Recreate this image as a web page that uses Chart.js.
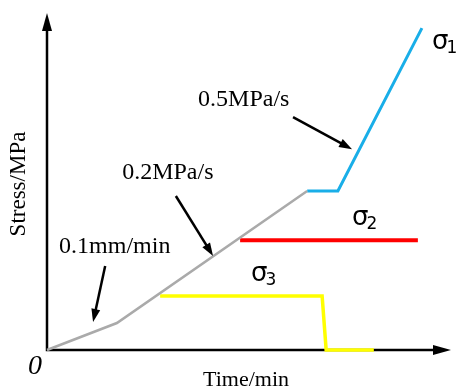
<!DOCTYPE html>
<html>
<head>
<meta charset="utf-8">
<script src="https://cdn.jsdelivr.net/npm/chart.js@4/dist/chart.umd.min.js"></script>
<style>
  body { margin: 0; background: #fff; }
  #wrap { width: 457px; height: 387px; position: relative; }
</style>
</head>
<body>
<div id="wrap"><canvas id="chart"></canvas></div>
<script>
// loading path (time, stress) in chart units
const preload = [{x: 0, y: 0}, {x: 17.3, y: 8.0}, {x: 64.4, y: 47.2}];
const sigma1 = [{x: 64.4, y: 47.2}, {x: 72.0, y: 47.2}, {x: 92.8, y: 95.5}];
const sigma2 = [{x: 47.8, y: 32.6}, {x: 91.8, y: 32.6}];
const sigma3 = [{x: 28.0, y: 16.0}, {x: 68.1, y: 16.0}, {x: 69.1, y: 0}, {x: 80.9, y: 0}];

// rate labels and their pointer arrows
const rateLabels = ["0.5MPa/s", "0.2MPa/s", "0.1mm/min"];
const rateLabelPos = [{x: 37.4, y: 74.2}, {x: 18.6, y: 52.5}, {x: 3.0, y: 30.6}];
const rateArrows = [
  [{x: 60.9, y: 69.1}, {x: 75.5, y: 59.6}],
  [{x: 31.9, y: 45.7}, {x: 41.1, y: 27.9}],
  [{x: 14.4, y: 24.9}, {x: 11.4, y: 8.3}]
];
const sigmaSubs = ["1", "2", "3"];
const sigmaPos = [{x: 95.3, y: 91.4}, {x: 75.5, y: 39.2}, {x: 50.5, y: 22.6}];

const xTitle = "Time/min";
const yTitle = "Stress/MPa";

function arrowHead(ctx, x1, y1, x2, y2, len, half) {
  const a = Math.atan2(y2 - y1, x2 - x1);
  ctx.beginPath();
  ctx.moveTo(x2, y2);
  ctx.lineTo(x2 - len * Math.cos(a) + half * Math.sin(a), y2 - len * Math.sin(a) - half * Math.cos(a));
  ctx.lineTo(x2 - len * Math.cos(a) - half * Math.sin(a), y2 - len * Math.sin(a) + half * Math.cos(a));
  ctx.closePath();
  ctx.fill();
}

const axesPlugin = {
  id: "axesArrows",
  beforeDatasetsDraw(chart) {
    const {ctx, chartArea: a} = chart;
    ctx.save();
    ctx.strokeStyle = "#000";
    ctx.fillStyle = "#000";
    ctx.lineWidth = 2.5;
    ctx.beginPath();
    ctx.moveTo(a.left, a.top + 10);
    ctx.lineTo(a.left, a.bottom);
    ctx.lineTo(a.right - 10, a.bottom);
    ctx.stroke();
    arrowHead(ctx, a.left, a.bottom, a.left, a.top, 18, 5);
    arrowHead(ctx, a.left, a.bottom, a.right, a.bottom, 18, 5);
    ctx.restore();
  },
  afterDatasetsDraw(chart) {
    const {ctx, chartArea: a} = chart;
    const xs = chart.scales.x, ys = chart.scales.y;
    ctx.save();
    ctx.fillStyle = "#000";
    ctx.strokeStyle = "#000";

    // pointer arrows
    ctx.lineWidth = 2.5;
    rateArrows.forEach(([p, q]) => {
      const x1 = xs.getPixelForValue(p.x), y1 = ys.getPixelForValue(p.y);
      const x2 = xs.getPixelForValue(q.x), y2 = ys.getPixelForValue(q.y);
      const ang = Math.atan2(y2 - y1, x2 - x1);
      ctx.beginPath();
      ctx.moveTo(x1, y1);
      ctx.lineTo(x2 - 8 * Math.cos(ang), y2 - 8 * Math.sin(ang));
      ctx.stroke();
      arrowHead(ctx, x1, y1, x2, y2, 13, 4.5);
    });

    // rate labels
    ctx.font = '24px "Liberation Serif", serif';
    ctx.textAlign = "left";
    ctx.textBaseline = "middle";
    rateLabels.forEach((t, i) => {
      ctx.fillText(t, xs.getPixelForValue(rateLabelPos[i].x), ys.getPixelForValue(rateLabelPos[i].y));
    });

    // sigma labels
    sigmaSubs.forEach((s, i) => {
      const x = xs.getPixelForValue(sigmaPos[i].x), y = ys.getPixelForValue(sigmaPos[i].y);
      ctx.font = '26px "DejaVu Sans", sans-serif';
      ctx.textBaseline = "middle";
      ctx.fillText("σ", x, y);
      const w = ctx.measureText("σ").width;
      ctx.font = '17px "DejaVu Sans", sans-serif';
      ctx.fillText(s, x + w - 2, y + 7);
    });

    // origin and axis titles
    ctx.font = 'italic 28px "Liberation Serif", serif';
    ctx.textAlign = "center";
    ctx.fillText("0", a.left - 12, a.bottom + 17);
    ctx.font = '22px "Liberation Serif", serif';
    ctx.fillText(xTitle, 246, a.bottom + 30);
    ctx.font = '23px "Liberation Serif", serif';
    ctx.translate(19, 184);
    ctx.rotate(-Math.PI / 2);
    ctx.fillText(yTitle, 0, 0);
    ctx.restore();
  }
};

const lineSet = (data, color, width) => ({
  data: data,
  borderColor: color,
  borderWidth: width,
  showLine: true,
  pointRadius: 0,
  fill: false,
  tension: 0,
  clip: false,
  borderJoinStyle: "miter",
  borderCapStyle: "butt"
});

new Chart(document.getElementById("chart"), {
  type: "scatter",
  data: {
    datasets: [
      lineSet(preload, "#aaaaaa", 2.5),
      lineSet(sigma1, "#19aee8", 3),
      lineSet(sigma2, "#ff0000", 4),
      lineSet(sigma3, "#ffff00", 3.5)
    ]
  },
  options: {
    responsive: true,
    maintainAspectRatio: false,
    animation: false,
    layout: { padding: { left: 47, right: 6, top: 13, bottom: 37 } },
    plugins: { legend: { display: false }, tooltip: { enabled: false } },
    scales: {
      x: { type: "linear", min: 0, max: 100, display: false },
      y: { type: "linear", min: 0, max: 100, display: false }
    }
  },
  plugins: [axesPlugin]
});
</script>
</body>
</html>
